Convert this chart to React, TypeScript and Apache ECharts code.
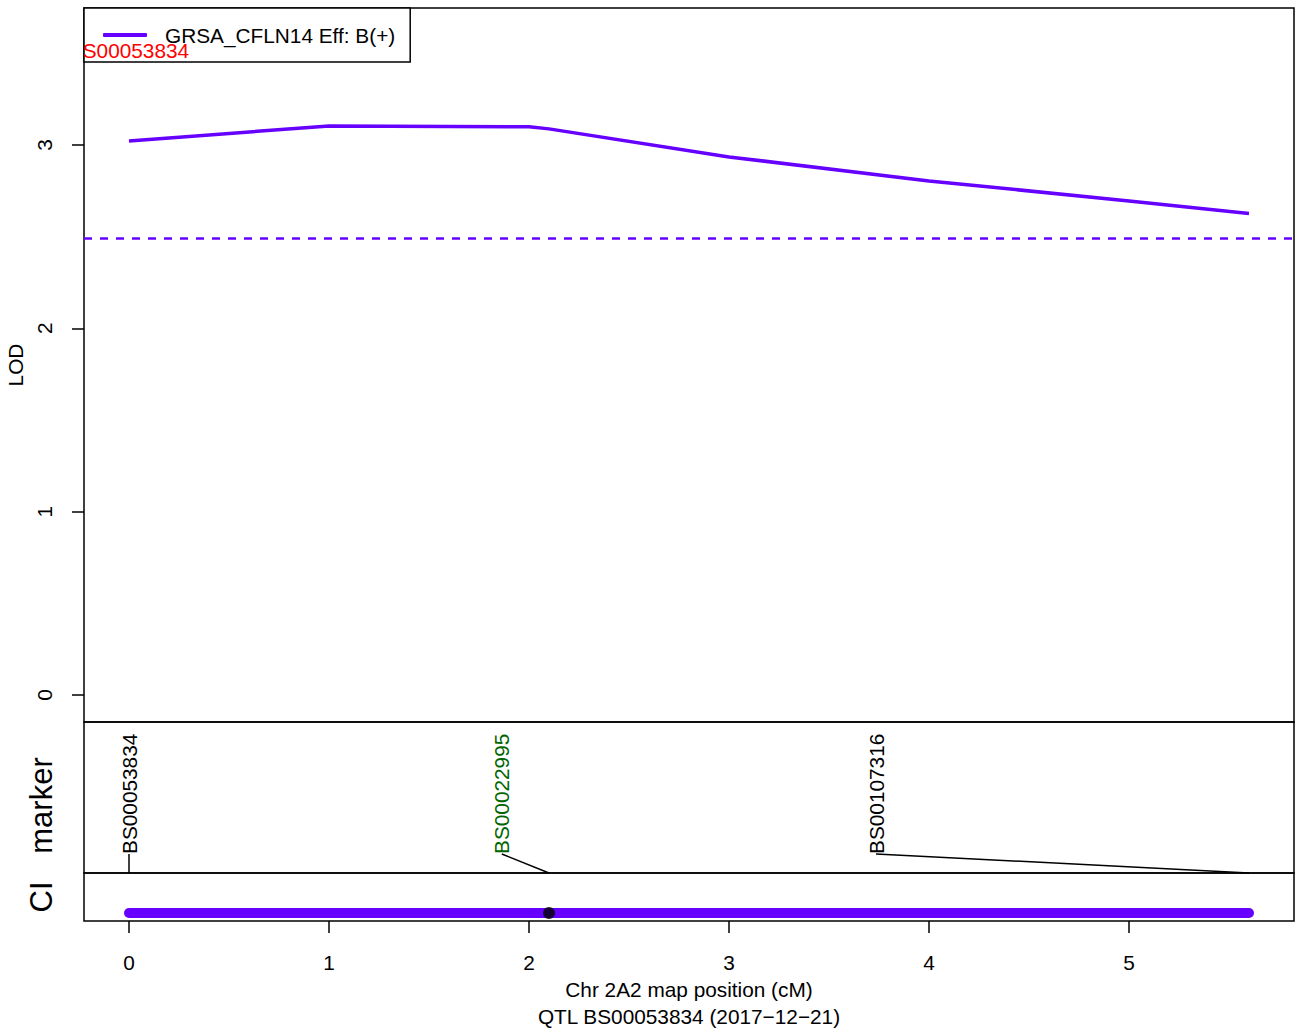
import React, { useEffect, useRef } from "react";
import * as echarts from "echarts";

// ---- data ----
const positions = [0, 1, 2, 2.1, 3, 4, 5, 5.6];
const lodValues = [3.022, 3.104, 3.099, 3.088, 2.935, 2.804, 2.695, 2.626];
const threshold = 2.488;
const xTicks = [0, 1, 2, 3, 4, 5];
const yTicks = [0, 1, 2, 3];
const markerNames = ["BS00053834", "BS00022995", "BS00107316"];
const markerPos = [0, 2.1, 5.6];
const markerLabelPos = [0, 1.864, 3.735];
const markerColors = ["#000000", "#006400", "#000000"];
const ciRange = [0, 5.6];
const peakPos = 2.1;
const peakName = "BS00053834";
const peakNamePos = 0;
const peakLabelLod = 3.518;
const legendName = "GRSA_CFLN14 Eff: B(+)";
const xTitle = "Chr 2A2 map position (cM)";
const subTitle = "QTL BS00053834 (2017\u221212\u221221)";

const PURPLE = "#6600ff";
const FONT = "Liberation Sans, Arial, Helvetica, sans-serif";
const FS = 20.8;
const X_MIN = -0.225;
const X_MAX = 5.825;
const MARKER_LABEL_Y = 0.126;
const CI_Y = 0.167;

export default function App() {
  const ref = useRef<HTMLDivElement>(null);
  useEffect(() => {
    document.body.style.margin = "0";
    const chart = echarts.init(ref.current!, null, { renderer: "svg" });
    const gridBase = {
      left: 84,
      right: 3,
      show: true,
      borderColor: "#000",
      borderWidth: 1.5,
      backgroundColor: "transparent",
      containLabel: false,
      outerBoundsMode: "none",
    };
    const hiddenX = (idx: number) => ({
      type: "value",
      gridIndex: idx,
      min: X_MIN,
      max: X_MAX,
      show: false,
    });
    const option: any = {
      animation: false,
      backgroundColor: "#fff",
      textStyle: { fontFamily: FONT },
      grid: [
        { ...gridBase, top: 8, height: 714 },
        { ...gridBase, top: 722, height: 151 },
        { ...gridBase, top: 873, height: 48 },
      ],
      legend: {
        left: 84,
        top: 8,
        data: [{ name: legendName, icon: "roundRect" }],
        backgroundColor: "#fff",
        borderColor: "#000",
        borderWidth: 1.5,
        borderRadius: 0,
        padding: [15, 15, 15, 19],
        itemWidth: 44,
        itemHeight: 4,
        selectedMode: false,
        itemStyle: { color: PURPLE },
        textStyle: {
          fontSize: FS,
          color: "#000",
          fontFamily: FONT,
          padding: [0, 0, 0, 13],
          lineHeight: 24,
        },
      },
      xAxis: [
        hiddenX(0),
        hiddenX(1),
        {
          type: "value",
          gridIndex: 2,
          min: X_MIN,
          max: X_MAX,
          axisLine: { show: false, onZero: false },
          splitLine: { show: false },
          axisTick: {
            show: true,
            customValues: xTicks,
            length: 12,
            inside: false,
            lineStyle: { color: "#000", width: 1.5 },
          },
          axisLabel: {
            customValues: xTicks,
            margin: 31,
            fontSize: FS,
            color: "#000",
            fontFamily: FONT,
          },
          name: xTitle + "\n" + subTitle,
          nameLocation: "middle",
          nameGap: 55,
          nameTextStyle: { fontSize: FS, color: "#000", lineHeight: 27, fontFamily: FONT },
        },
      ],
      yAxis: [
        {
          type: "value",
          gridIndex: 0,
          min: -0.1473,
          max: 3.7473,
          axisLine: { show: false, onZero: false },
          splitLine: { show: false },
          axisTick: {
            show: true,
            customValues: yTicks,
            length: 12,
            inside: false,
            lineStyle: { color: "#000", width: 1.5 },
          },
          axisLabel: {
            customValues: yTicks,
            rotate: 90,
            margin: 29,
            align: "center",
            verticalAlign: "bottom",
            fontSize: FS,
            color: "#000",
            fontFamily: FONT,
          },
          name: "LOD",
          nameLocation: "middle",
          nameRotate: 90,
          nameGap: 51,
          nameTextStyle: { fontSize: FS, color: "#000", fontFamily: FONT },
        },
        {
          type: "value",
          gridIndex: 1,
          min: 0,
          max: 1,
          axisLine: { show: false, onZero: false },
          axisTick: { show: false },
          axisLabel: { show: false },
          splitLine: { show: false },
          name: "marker",
          nameLocation: "middle",
          nameRotate: 90,
          nameGap: 27,
          nameTextStyle: { fontSize: 31, color: "#000", fontFamily: FONT, padding: [0, 16, 0, 0] },
        },
        {
          type: "value",
          gridIndex: 2,
          min: 0,
          max: 1,
          axisLine: { show: false, onZero: false },
          axisTick: { show: false },
          axisLabel: { show: false },
          splitLine: { show: false },
          name: "CI",
          nameLocation: "middle",
          nameRotate: 90,
          nameGap: 27,
          nameTextStyle: { fontSize: 31, color: "#000", fontFamily: FONT },
        },
      ],
      series: [
        {
          name: legendName,
          type: "line",
          xAxisIndex: 0,
          yAxisIndex: 0,
          data: positions.map((p, i) => [p, lodValues[i]]),
          symbol: "none",
          lineStyle: { color: PURPLE, width: 3.5 },
          itemStyle: { color: PURPLE },
          z: 3,
          markLine: {
            silent: true,
            symbol: "none",
            label: { show: false },
            lineStyle: { color: PURPLE, width: 2.5, type: [8, 8] },
            data: [{ yAxis: threshold }],
          },
        },
        {
          name: "peak",
          type: "custom",
          xAxisIndex: 0,
          yAxisIndex: 0,
          clip: true,
          z: 10,
          data: [[peakNamePos, peakLabelLod]],
          renderItem: (params: any, api: any) => {
            const pt = api.coord([api.value(0), api.value(1)]);
            return {
              type: "text",
              x: pt[0],
              y: pt[1],
              style: {
                text: peakName,
                fill: "#ff0000",
                fontSize: FS,
                fontFamily: FONT,
                align: "center",
                verticalAlign: "middle",
              },
            };
          },
        },
        {
          name: "markers",
          type: "custom",
          xAxisIndex: 1,
          yAxisIndex: 1,
          data: markerPos.map((p, i) => [p, markerLabelPos[i], i]),
          renderItem: (params: any, api: any) => {
            const idx = api.value(2);
            const a = api.coord([api.value(0), 0]);
            const b = api.coord([api.value(1), MARKER_LABEL_Y]);
            return {
              type: "group",
              children: [
                {
                  type: "line",
                  shape: { x1: a[0], y1: a[1], x2: b[0], y2: b[1] },
                  style: { stroke: "#000", lineWidth: 1.5 },
                },
                {
                  type: "text",
                  x: b[0],
                  y: b[1],
                  rotation: Math.PI / 2,
                  style: {
                    text: markerNames[idx],
                    fill: markerColors[idx],
                    fontSize: FS,
                    fontFamily: FONT,
                    align: "left",
                    verticalAlign: "middle",
                  },
                },
              ],
            };
          },
        },
        {
          name: "CI",
          type: "line",
          xAxisIndex: 2,
          yAxisIndex: 2,
          data: ciRange.map((p) => [p, CI_Y]),
          symbol: "none",
          lineStyle: { color: PURPLE, width: 10, cap: "round" },
        },
        {
          name: "peakDot",
          type: "scatter",
          xAxisIndex: 2,
          yAxisIndex: 2,
          data: [[peakPos, CI_Y]],
          symbolSize: 12,
          itemStyle: { color: "#000" },
          z: 5,
        },
      ],
    };
    chart.setOption(option);
    return () => chart.dispose();
  }, []);
  return <div ref={ref} style={{ width: 1297, height: 1033 }} />;
}
